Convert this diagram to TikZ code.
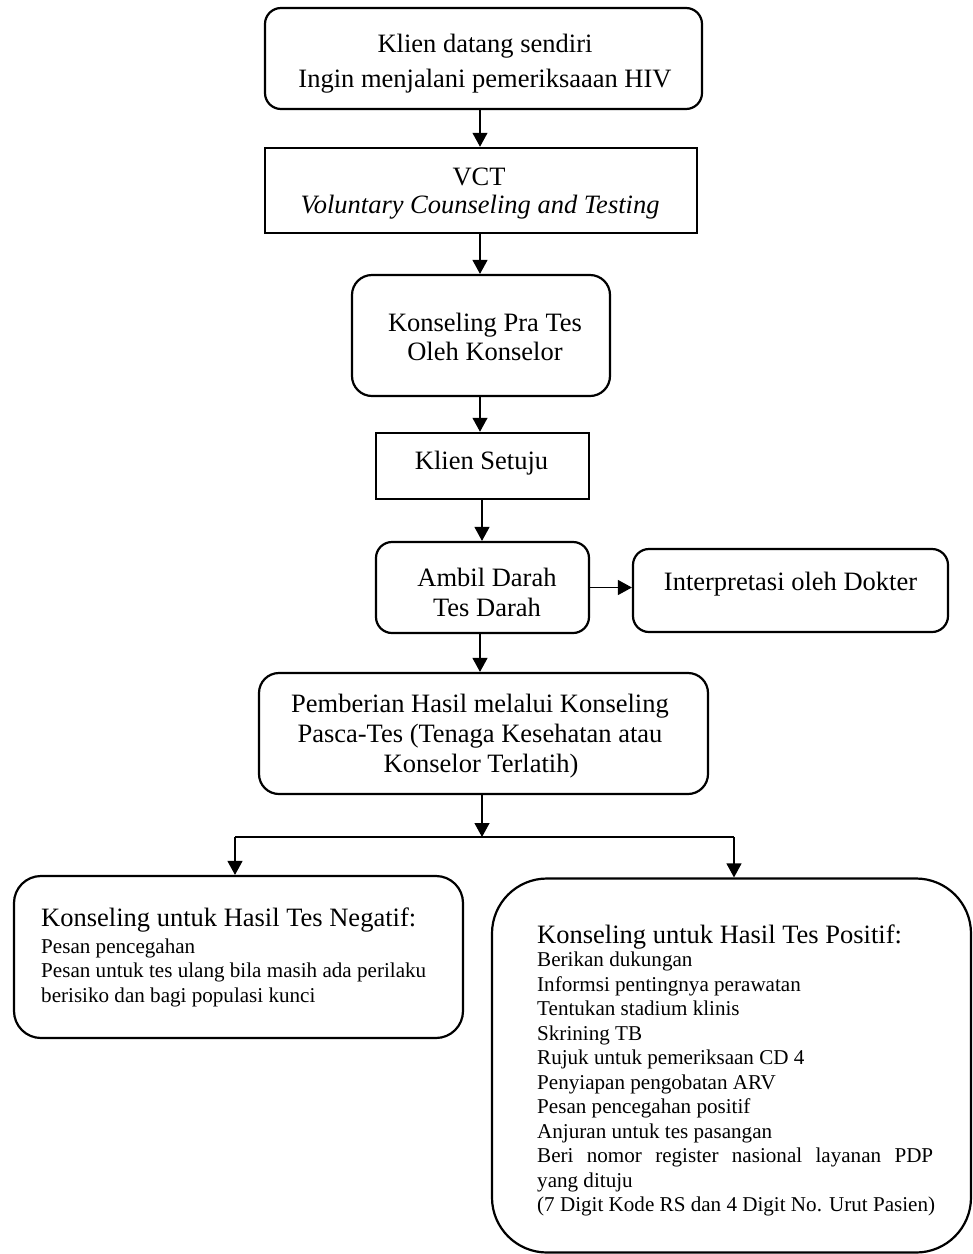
\documentclass[tikz,border=0pt]{standalone}
\usepackage{fontspec}
\setmainfont{Liberation Serif}
\usetikzlibrary{arrows.meta}
\begin{document}
\begin{tikzpicture}[x=1pt,y=-1pt,
  rectbox/.style={draw, line width=2.5pt, rectangle, inner sep=0pt},
  rndbox/.style={draw, line width=2.2pt, rectangle, rounded corners=#1, inner sep=0pt},
  rndbox/.default=16pt,
  arrowline/.style={line width=1.2pt, -{Triangle[length=14pt,width=15pt]}},
  plainline/.style={line width=1.2pt},
  maintxt/.style={font=\fontsize{26.5}{30.5}\selectfont, inner sep=0pt, anchor=base},
  headtxt/.style={font=\fontsize{26.5}{30.5}\selectfont, inner sep=0pt, anchor=base west},
  smalltxt/.style={font=\fontsize{21.1}{24.5}\selectfont, inner sep=0pt, anchor=base west}]
\useasboundingbox (0,0) rectangle (973,1254);

% boxes
\node[rndbox=16pt, minimum width=437pt, minimum height=101pt] (b1) at (483.5,58.5) {};
\node[rectbox, minimum width=432pt, minimum height=85pt] (b2) at (481,190.5) {};
\node[rndbox=20pt, minimum width=258pt, minimum height=121pt] (b3) at (481,335.5) {};
\node[rectbox, minimum width=213pt, minimum height=66pt] (b4) at (482.5,466) {};
\node[rndbox=16pt, minimum width=213pt, minimum height=91pt] (b5) at (482.5,587.5) {};
\node[rndbox=16pt, minimum width=315pt, minimum height=83pt] (b6) at (790.5,590.5) {};
\node[rndbox=20pt, minimum width=449pt, minimum height=121pt] (b7) at (483.5,733.5) {};
\node[rndbox=27pt, minimum width=449pt, minimum height=162pt] (b8) at (238.5,957) {};
\node[rndbox=55pt, minimum width=479pt, minimum height=374pt] (b9) at (731.5,1065.5) {};

% texts
\node[maintxt] (t1a) at (485,52) {Klien datang sendiri};
\node[maintxt] (t1b) at (485,87) {Ingin menjalani pemeriksaaan HIV};
\node[maintxt] (t2a) at (479,185) {VCT};
\node[maintxt] (t2b) at (480,213.5) {\itshape Voluntary Counseling and Testing};
\node[maintxt] (t3a) at (485,331) {Konseling Pra Tes};
\node[maintxt] (t3b) at (485,360) {Oleh Konselor};
\node[maintxt] (t4) at (481.5,469.3) {Klien Setuju};
\node[maintxt] (t5a) at (487,586.7) {Ambil Darah};
\node[maintxt] (t5b) at (487,616.7) {Tes Darah};
\node[maintxt] (t6) at (790.5,590) {Interpretasi oleh Dokter};
\node[maintxt] (t7a) at (480,712.7) {Pemberian Hasil melalui Konseling};
\node[maintxt] (t7b) at (480,742.7) {Pasca-Tes (Tenaga Kesehatan atau};
\node[maintxt] (t7c) at (481,772.7) {Konselor Terlatih)};

\node[headtxt] (n0) at (41,926.7) {Konseling untuk Hasil Tes Negatif:};
\node[smalltxt] (n1) at (41,953) {Pesan pencegahan};
\node[smalltxt] (n2) at (41,977.5) {Pesan untuk tes ulang bila masih ada perilaku};
\node[smalltxt] (n3) at (41,1002) {berisiko dan bagi populasi kunci};

\node[headtxt] (q0) at (537,943) {Konseling untuk Hasil Tes Positif:};
\foreach \t [count=\i from 0] in {Berikan dukungan, Informsi pentingnya perawatan, Tentukan stadium klinis, Skrining TB, Rujuk untuk pemeriksaan CD 4, Penyiapan pengobatan ARV, Pesan pencegahan positif, Anjuran untuk tes pasangan}
  \node[smalltxt] (p\i) at (537,{966.7+24.5*\i}) {\t};
\node[smalltxt] (p8) at (537,{966.7+24.5*8}) {\makebox[396pt][s]{Beri nomor register nasional layanan PDP}};
\node[smalltxt] (p9) at (537,{966.7+24.5*9}) {yang dituju};
\node[smalltxt] (p10) at (537,{966.7+24.5*10}) {(7 Digit Kode RS dan 4 Digit No. Urut Pasien)};

% connectors
\coordinate (ax) at (480,0);
\coordinate (bx) at (482,0);
\coordinate (sp) at (482,837);
\coordinate (spL) at (235,837);
\coordinate (spR) at (734,837);
\draw[arrowline] (b1.south -| ax) -- (b2.north -| ax);
\draw[arrowline] (b2.south -| ax) -- (b3.north -| ax);
\draw[arrowline] (b3.south -| ax) -- (b4.north -| ax);
\draw[arrowline] (b4.south -| bx) -- (b5.north -| bx);
\draw[arrowline] (b5.east) -- (b5.east -| b6.west);
\draw[arrowline] (b5.south -| ax) -- (b7.north -| ax);
\draw[arrowline] (b7.south -| sp) -- (sp);
\draw[plainline] (spL) -- (spR);
\draw[arrowline] (spL) -- (spL |- b8.north);
\draw[arrowline] (spR) -- (spR |- b9.north);
\end{tikzpicture}
\end{document}
